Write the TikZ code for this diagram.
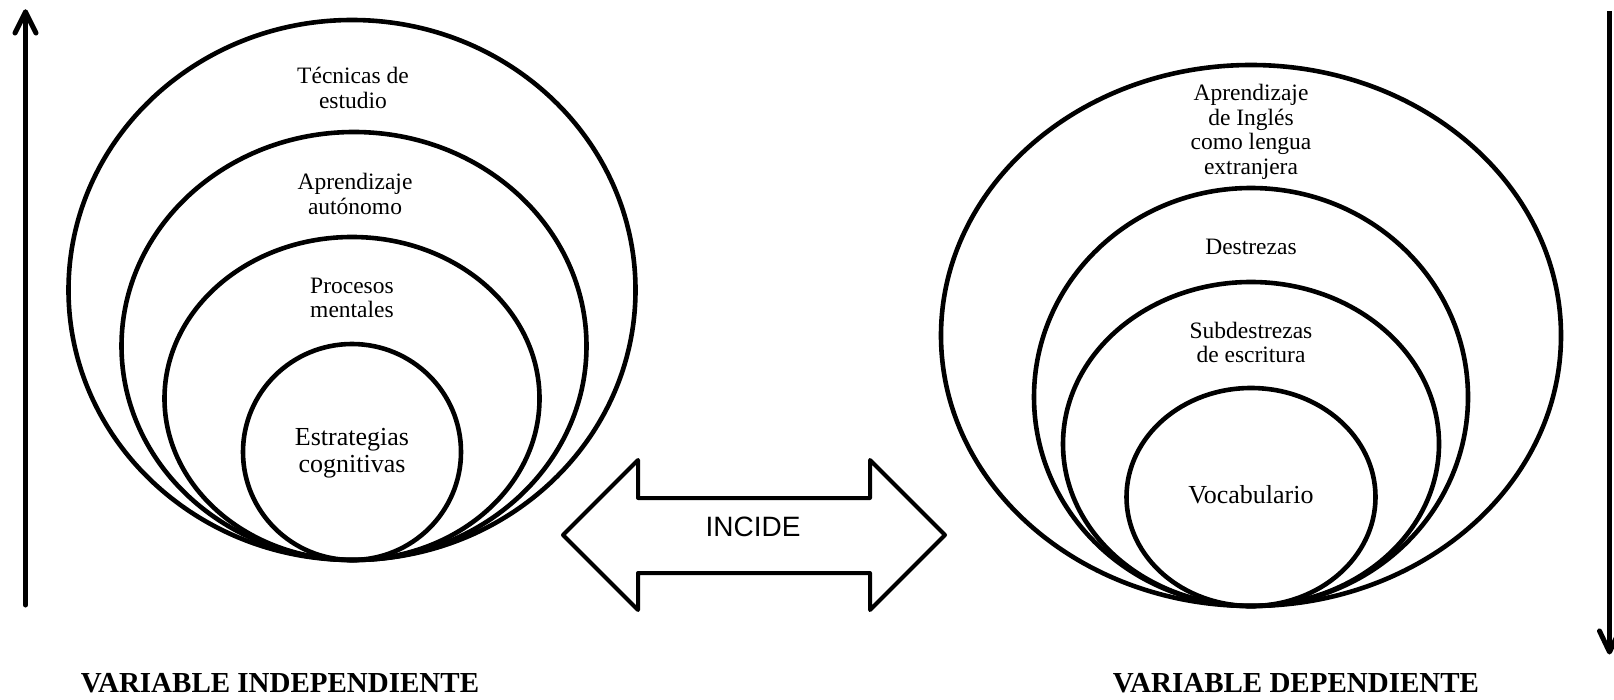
\documentclass[tikz,border=0pt]{standalone}
\usepackage{fontspec}
\setmainfont{Liberation Serif}
\newfontfamily\arialf{Liberation Sans}
\begin{document}
\begin{tikzpicture}[x=1pt,y=-1pt,
  ring/.style={draw=black,line width=4.6pt},
  lbl/.style={align=center,inner sep=0pt,font=\fontsize{23.5}{24.5}\selectfont},
  lblbig/.style={align=center,inner sep=0pt,font=\fontsize{26}{26.5}\selectfont},
  vtitle/.style={inner sep=0pt,font=\fontsize{29}{30}\selectfont\bfseries},
  vline/.style={draw=black,line width=5pt,line cap=round,line join=round},
  bigarrow/.style={draw=black,line width=4pt,line join=round}]
\useasboundingbox (0,0) rectangle (1614,700);
% left group
\draw[ring] (352,290) ellipse [x radius=283.5,y radius=270];
\draw[ring] (354,346) ellipse [x radius=232.5,y radius=214];
\draw[ring] (352,398.5) ellipse [x radius=187.5,y radius=161.5];
\draw[ring] (352,452) ellipse [x radius=109,y radius=108];
\node[lbl] (t1) at (353,88) {Técnicas de\\estudio};
\node[lbl] (t2) at (355,194) {Aprendizaje\\autónomo};
\node[lbl] (t3) at (352,298) {Procesos\\mentales};
\node[lblbig] (t4) at (352,453) {Estrategias\\cognitivas};
% right group
\draw[ring] (1251,335.5) ellipse [x radius=310,y radius=270.5];
\draw[ring] (1251,397) ellipse [x radius=217,y radius=209];
\draw[ring] (1251,444) ellipse [x radius=188,y radius=162];
\draw[ring] (1251,497) ellipse [x radius=124.5,y radius=109];
\node[lbl] (r1) at (1251,132) {Aprendizaje\\de Inglés\\como lengua\\extranjera};
\node[lbl] (r2) at (1251,247) {Destrezas};
\node[lbl] (r3) at (1251,342.5) {Subdestrezas\\de escritura};
\node[lblbig] (r4) at (1251,495) {Vocabulario};
% double arrow
\draw[bigarrow] (563,535) -- (638,460) -- (638,498) -- (870,498) -- (870,460)
  -- (945,535) -- (870,610) -- (870,573) -- (638,573) -- (638,610) -- cycle;
\node[inner sep=0pt,font=\arialf\fontsize{28}{30}\selectfont] (inc) at (753,527) {INCIDE};
% vertical arrows
\coordinate (la1) at (25.5,605);
\coordinate (la2) at (25.5,12);
\draw[vline] (la1) -- (la2);
\draw[vline] (15,33) -- (la2) -- (36,33);
\coordinate (ra1) at (1609.5,11);
\coordinate (ra2) at (1609.5,652);
\draw[vline,line cap=butt] (ra1) -- (ra2);
\draw[vline] (1599.5,631) -- (ra2) -- (1619.5,631);
% titles
\node[vtitle] (vi) at (280,683) {VARIABLE INDEPENDIENTE};
\node[vtitle] (vd) at (1296,683) {VARIABLE DEPENDIENTE};
\end{tikzpicture}
\end{document}
